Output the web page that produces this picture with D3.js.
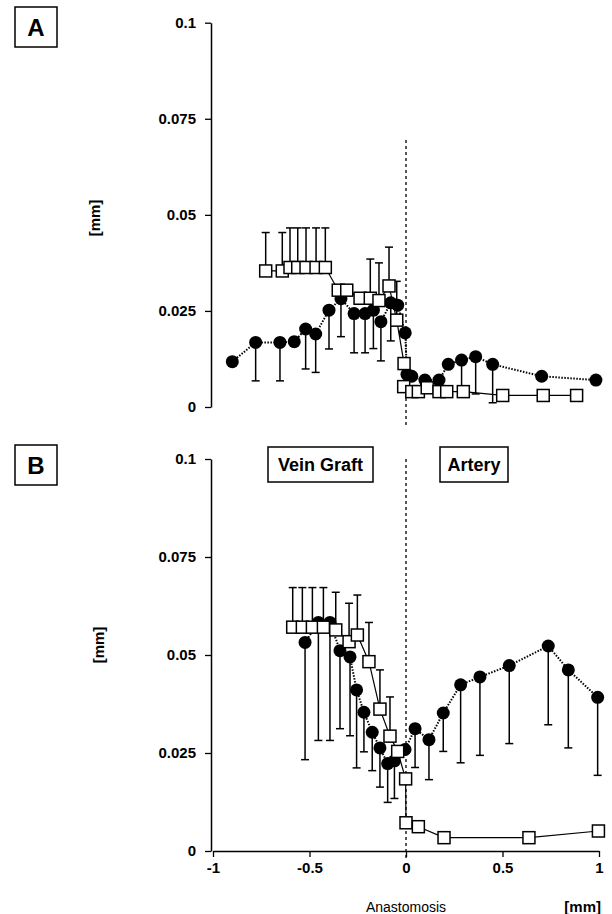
<!DOCTYPE html>
<html>
<head>
<meta charset="utf-8">
<script src="https://d3js.org/d3.v7.min.js"></script>
<style>
body { margin: 0; background: #fff; }
text { font-family: "Liberation Sans", Arial, sans-serif; fill: #000; }
</style>
</head>
<body>
<script>

// ---- data ----
// panel A, filled circles (mean, lower SD end)
var aCircX   = [-0.90, -0.779, -0.653, -0.579, -0.520, -0.468, -0.399, -0.337, -0.269, -0.212, -0.169, -0.130, -0.079, -0.043, -0.004, 0.005, 0.030, 0.098, 0.171, 0.219, 0.288, 0.361, 0.449, 0.703, 0.984];
var aCircY   = [0.0118, 0.0168, 0.0168, 0.0170, 0.0203, 0.0190, 0.0252, 0.0282, 0.0243, 0.0243, 0.0252, 0.0222, 0.0271, 0.0265, 0.0193, 0.0085, 0.0080, 0.0070, 0.0070, 0.0111, 0.0122, 0.0131, 0.0111, 0.0080, 0.0070];
var aCircLo  = [null, 0.0068, 0.0068, null, 0.0099, 0.0090, 0.0151, 0.0183, 0.0141, 0.0141, 0.0152, 0.0120, 0.0172, null, null, null, null, null, null, null, 0.0044, 0.0034, 0.0011, null, null];

// panel A, open squares (mean, upper SD end)
var aSqX  = [-0.727, -0.641, -0.601, -0.561, -0.518, -0.466, -0.418, -0.351, -0.307, -0.238, -0.185, -0.140, -0.088, -0.048, -0.010, -0.012, 0.030, 0.064, 0.110, 0.171, 0.211, 0.297, 0.501, 0.711, 0.884];
var aSqY  = [0.0354, 0.0354, 0.0363, 0.0363, 0.0363, 0.0363, 0.0363, 0.0304, 0.0304, 0.0283, 0.0283, 0.0277, 0.0315, 0.0226, 0.0113, 0.0053, 0.0040, 0.0040, 0.0050, 0.0040, 0.0040, 0.0040, 0.0030, 0.0030, 0.0030];
var aSqHi = [0.0454, 0.0454, 0.0466, 0.0466, 0.0466, 0.0466, 0.0466, null, null, null, 0.0385, 0.0375, 0.0416, 0.0327, null, null, null, null, null, null, null, null, null, null, null];

// panel B, filled circles
var bCircX  = [-0.523, -0.454, -0.394, -0.342, -0.290, -0.256, -0.218, -0.175, -0.135, -0.095, -0.060, -0.005, 0.047, 0.119, 0.193, 0.283, 0.383, 0.535, 0.737, 0.841, 0.993];
var bCircY  = [0.0532, 0.0583, 0.0583, 0.0511, 0.0495, 0.0411, 0.0354, 0.0303, 0.0263, 0.0223, 0.0230, 0.0259, 0.0312, 0.0284, 0.0352, 0.0424, 0.0444, 0.0473, 0.0523, 0.0462, 0.0392];
var bCircLo = [0.0233, 0.0282, 0.0282, 0.0312, 0.0294, 0.0212, 0.0253, 0.0205, 0.0163, 0.0124, 0.0134, null, 0.0213, 0.0182, 0.0254, 0.0225, 0.0244, 0.0274, 0.0322, 0.0263, 0.0193];

// panel B, open squares
var bSqX  = [-0.587, -0.537, -0.485, -0.428, -0.364, -0.295, -0.252, -0.192, -0.135, -0.083, -0.043, -0.002, 0.000, 0.064, 0.197, 0.637, 0.997];
var bSqY  = [0.0571, 0.0571, 0.0571, 0.0571, 0.0564, 0.0534, 0.0551, 0.0483, 0.0362, 0.0293, 0.0254, 0.0184, 0.0072, 0.0062, 0.0034, 0.0034, 0.0051];
var bSqHi = [0.0672, 0.0672, 0.0672, 0.0672, 0.0660, 0.0632, 0.0653, 0.0583, 0.0462, 0.0393, null, null, null, null, null, null, null];

var yTicks = [0, 0.025, 0.05, 0.075, 0.1];
var yTickLabels = ["0", "0.025", "0.05", "0.075", "0.1"];
var xTicks = [-1, -0.5, 0, 0.5, 1];
var xTickLabels = ["-1", "-0.5", "0", "0.5", "1"];

// ---- layout ----
let width = 612, height = 914;
var svg = d3.select("body").append("svg").attr("width", width).attr("height", height);

var x = d3.scaleLinear().domain([-1, 1]).range([213, 599]);
var yA = d3.scaleLinear().domain([0, 0.1]).range([407, 22.7]);
var yB = d3.scaleLinear().domain([0, 0.1]).range([851, 459]);

function zip(xs, ys, es) {
  return xs.map(function(d, i) { return {x: d, y: ys[i], e: es[i]}; });
}

function yAxis(g, y) {
  g.attr("transform", "translate(211,0)")
    .call(d3.axisLeft(y).tickValues(yTicks).tickSize(6).tickSizeOuter(0).tickPadding(9)
      .tickFormat(function(d, i) { return yTickLabels[i]; }));
  g.select(".domain").attr("stroke-width", 1.5);
  g.selectAll(".tick line").attr("stroke-width", 1.3);
  g.selectAll(".tick text").attr("font-size", 15).attr("font-weight", "bold")
    .style("font-family", "'Liberation Sans', Arial, sans-serif");
}

function panelBox(px, py, w, h, label, size) {
  svg.append("rect").attr("x", px).attr("y", py).attr("width", w).attr("height", h)
    .attr("fill", "none").attr("stroke", "#000").attr("stroke-width", 1.5);
  svg.append("text").attr("x", px + w / 2).attr("y", py + h / 2).attr("dy", "0.36em")
    .attr("text-anchor", "middle").attr("font-size", size).attr("font-weight", "bold").text(label);
}

function drawSeries(g, y, circ, sq) {
  var cap = 4;
  // error bars, circles go down
  circ.filter(function(d) { return d.e != null; }).forEach(function(d) {
    g.append("line").attr("x1", x(d.x)).attr("x2", x(d.x)).attr("y1", y(d.y)).attr("y2", y(d.e))
      .attr("stroke", "#000").attr("stroke-width", 1.5);
    g.append("line").attr("x1", x(d.x) - cap).attr("x2", x(d.x) + cap).attr("y1", y(d.e)).attr("y2", y(d.e))
      .attr("stroke", "#000").attr("stroke-width", 1.5);
  });
  // squares go up
  sq.filter(function(d) { return d.e != null; }).forEach(function(d) {
    g.append("line").attr("x1", x(d.x)).attr("x2", x(d.x)).attr("y1", y(d.y)).attr("y2", y(d.e))
      .attr("stroke", "#000").attr("stroke-width", 1.5);
    g.append("line").attr("x1", x(d.x) - cap).attr("x2", x(d.x) + cap).attr("y1", y(d.e)).attr("y2", y(d.e))
      .attr("stroke", "#000").attr("stroke-width", 1.5);
  });

  var line = d3.line().x(function(d) { return x(d.x); }).y(function(d) { return y(d.y); });
  g.append("path").datum(circ).attr("d", line).attr("fill", "none")
    .attr("stroke", "#000").attr("stroke-width", 2).attr("stroke-dasharray", "1.5,1.5");
  g.append("path").datum(sq).attr("d", line).attr("fill", "none")
    .attr("stroke", "#000").attr("stroke-width", 1.2);

  g.selectAll(".c").data(circ).enter().append("circle").attr("class", "c")
    .attr("cx", function(d) { return x(d.x); }).attr("cy", function(d) { return y(d.y); })
    .attr("r", 6.5).attr("fill", "#000");
  g.selectAll(".s").data(sq).enter().append("rect").attr("class", "s")
    .attr("x", function(d) { return x(d.x) - 6; }).attr("y", function(d) { return y(d.y) - 6; })
    .attr("width", 12).attr("height", 12)
    .attr("fill", "#fff").attr("stroke", "#000").attr("stroke-width", 1.5);
}

// ---- panel A ----
panelBox(15, 7, 42, 40, "A", 24);
svg.append("g").call(yAxis, yA);
svg.append("text").attr("transform", "translate(100,218) rotate(-90)")
  .attr("text-anchor", "middle").attr("font-size", 15).attr("font-weight", "bold").text("[mm]");
svg.append("line").attr("x1", x(0)).attr("x2", x(0)).attr("y1", 140).attr("y2", 425)
  .attr("stroke", "#000").attr("stroke-width", 1.3).attr("stroke-dasharray", "3,3");
drawSeries(svg.append("g"), yA, zip(aCircX, aCircY, aCircLo), zip(aSqX, aSqY, aSqHi));

// ---- panel B ----
panelBox(15, 445, 42, 40, "B", 24);
svg.append("g").call(yAxis, yB);
svg.append("text").attr("transform", "translate(104,645) rotate(-90)")
  .attr("text-anchor", "middle").attr("font-size", 15).attr("font-weight", "bold").text("[mm]");

var xg = svg.append("g").attr("transform", "translate(0,851)")
  .call(d3.axisBottom(x).tickValues(xTicks).tickSize(6).tickSizeOuter(0).tickPadding(5)
    .tickFormat(function(d, i) { return xTickLabels[i]; }));
xg.select(".domain").attr("stroke-width", 1.5);
xg.selectAll(".tick line").attr("stroke-width", 1.3);
xg.selectAll(".tick text").attr("font-size", 15).attr("font-weight", "bold")
  .style("font-family", "'Liberation Sans', Arial, sans-serif");

svg.append("line").attr("x1", x(0)).attr("x2", x(0)).attr("y1", 459).attr("y2", 860)
  .attr("stroke", "#000").attr("stroke-width", 1.3).attr("stroke-dasharray", "3,3");

panelBox(268, 447, 105, 35, "Vein Graft", 18);
panelBox(440, 447, 68, 35, "Artery", 18);

drawSeries(svg.append("g"), yB, zip(bCircX, bCircY, bCircLo), zip(bSqX, bSqY, bSqHi));

svg.append("text").attr("x", x(0)).attr("y", 912).attr("text-anchor", "middle")
  .attr("font-size", 14).text("Anastomosis");
svg.append("text").attr("x", 601).attr("y", 912).attr("text-anchor", "end")
  .attr("font-size", 15).attr("font-weight", "bold").text("[mm]");

</script>
</body>
</html>
